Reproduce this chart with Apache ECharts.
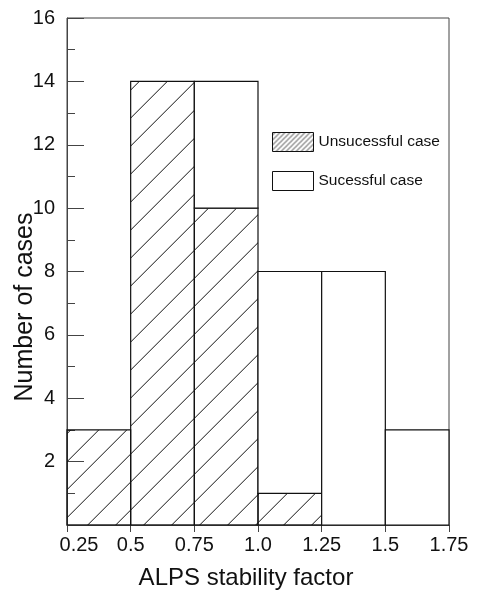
<!DOCTYPE html>
<html>
<head>
<meta charset="utf-8">
<title>ALPS stability factor histogram</title>
<script src="https://cdn.jsdelivr.net/npm/echarts@6/dist/echarts.min.js"></script>
<style>
  html, body { margin: 0; padding: 0; background: #ffffff; }
  #chart { width: 478px; height: 595px; }
</style>
</head>
<body>
<div id="chart"></div>
<script>
// Histogram bins (edges on the stability-factor axis) and counts per bin
const binEdges = [0.25, 0.5, 0.75, 1.0, 1.25, 1.5, 1.75];
const unsuccessfulCases = [3, 14, 10, 1, 0, 0];
const successfulCases = [0, 0, 4, 7, 8, 3];
const xTickLabels = ['0.25', '0.5', '0.75', '1.0', '1.25', '1.5', '1.75'];
const yTickLabels = ['', '', '2', '', '4', '', '6', '', '8', '', '10', '', '12', '', '14', '', '16'];
const seriesNames = ['Unsucessful case', 'Sucessful case'];

const FONT = "'Liberation Sans', Arial, sans-serif";
const INK = '#111111';
const FRAME = '#444444';

// Diagonal "/" hatch tile used as a repeating fill
function makeHatch(size, phase, width) {
  const c = document.createElement('canvas');
  c.width = size;
  c.height = size;
  const ctx = c.getContext('2d');
  ctx.strokeStyle = INK;
  ctx.lineWidth = width;
  for (const k of [-1, 0, 1]) {
    const s = phase + k * size;
    ctx.beginPath();
    ctx.moveTo(-2, s + 2);
    ctx.lineTo(size + 2, s - size - 2);
    ctx.stroke();
  }
  return { image: c, repeat: 'repeat' };
}
const hatchFill = makeHatch(28, 24.7, 1);
const legendHatch = makeHatch(5, 2.5, 0.9);

// Rectangles [lo, hi, base, top] built from the bin edges and stacked counts
const unsuccessfulRects = [];
const successfulRects = [];
for (let i = 0; i < unsuccessfulCases.length; i++) {
  const lo = binEdges[i], hi = binEdges[i + 1];
  if (unsuccessfulCases[i] > 0) {
    unsuccessfulRects.push([lo, hi, 0, unsuccessfulCases[i]]);
  }
  if (successfulCases[i] > 0) {
    successfulRects.push([lo, hi, unsuccessfulCases[i], unsuccessfulCases[i] + successfulCases[i]]);
  }
}

function binRenderer(fill) {
  return function (params, api) {
    const p0 = api.coord([api.value(0), api.value(2)]);
    const p1 = api.coord([api.value(1), api.value(3)]);
    return {
      type: 'rect',
      shape: { x: p0[0], y: p1[1], width: p1[0] - p0[0], height: p0[1] - p1[1] },
      style: { fill: fill, stroke: INK, lineWidth: 1.2 }
    };
  };
}

const chart = echarts.init(document.getElementById('chart'), null, { renderer: 'canvas' });

chart.setOption({
  animation: false,
  backgroundColor: '#ffffff',
  textStyle: { fontFamily: FONT },
  grid: {
    left: 67, right: 29, top: 18, bottom: 68,
    show: true, borderColor: FRAME, borderWidth: 1, backgroundColor: 'transparent'
  },
  legend: {
    orient: 'vertical',
    left: 267,
    top: 127,
    itemWidth: 41,
    itemHeight: 19,
    itemGap: 19,
    icon: 'rect',
    selectedMode: false,
    textStyle: { fontFamily: FONT, fontSize: 15.5, color: INK },
    data: [
      { name: seriesNames[0], itemStyle: { color: legendHatch, borderColor: INK, borderWidth: 1 } },
      { name: seriesNames[1], itemStyle: { color: '#ffffff', borderColor: INK, borderWidth: 1 } }
    ]
  },
  xAxis: {
    type: 'value',
    min: 0.25,
    max: 1.75,
    interval: 0.25,
    name: 'ALPS stability factor',
    nameLocation: 'middle',
    nameGap: 41,
    nameTextStyle: { fontFamily: FONT, fontSize: 24, color: INK, padding: [0, 24, 0, 0] },
    axisLine: { show: true, lineStyle: { color: FRAME, width: 1 } },
    axisTick: { show: true, inside: false, length: 7, lineStyle: { color: FRAME } },
    splitLine: { show: false },
    axisLabel: {
      fontFamily: FONT,
      fontSize: 20,
      color: INK,
      margin: 10,
      formatter: function (v) {
        const idx = Math.round((v - binEdges[0]) / 0.25);
        const txt = xTickLabels[idx] || '';
        return idx === 0 ? '{first|' + txt + '}' : txt;
      },
      rich: { first: { fontFamily: FONT, fontSize: 20, color: INK, padding: [0, 0, 0, 24] } }
    }
  },
  yAxis: {
    type: 'value',
    min: 0,
    max: 16,
    interval: 2,
    axisLine: { show: true, lineStyle: { color: FRAME, width: 1 } },
    axisTick: { show: true, inside: true, length: 17, lineStyle: { color: FRAME } },
    minorTick: { show: true, splitNumber: 2, length: 8, lineStyle: { color: FRAME } },
    splitLine: { show: false },
    minorSplitLine: { show: false },
    axisLabel: {
      fontFamily: FONT,
      fontSize: 20,
      color: INK,
      margin: 12,
      formatter: function (v) { return yTickLabels[Math.round(v)] || ''; }
    }
  },
  graphic: [
    {
      type: 'text',
      x: 25,
      y: 307,
      rotation: Math.PI / 2,
      style: {
        text: 'Number of cases',
        font: '25px ' + FONT,
        fill: INK,
        textAlign: 'center',
        textVerticalAlign: 'middle'
      }
    }
  ],
  series: [
    {
      name: seriesNames[0],
      type: 'custom',
      renderItem: binRenderer(hatchFill),
      itemStyle: { color: hatchFill, borderColor: INK, borderWidth: 1 },
      encode: { x: [0, 1], y: [2, 3] },
      data: unsuccessfulRects,
      z: 3
    },
    {
      name: seriesNames[1],
      type: 'custom',
      renderItem: binRenderer('#ffffff'),
      itemStyle: { color: '#ffffff', borderColor: INK, borderWidth: 1 },
      encode: { x: [0, 1], y: [2, 3] },
      data: successfulRects,
      z: 3
    }
  ]
});
</script>
</body>
</html>
